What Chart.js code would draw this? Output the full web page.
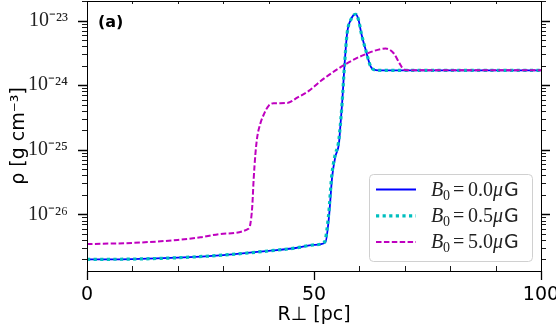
<!DOCTYPE html>
<html>
<head>
<meta charset="utf-8">
<script src="https://cdn.jsdelivr.net/npm/chart.js@4.4.1/dist/chart.umd.min.js"></script>
<style>
  html, body { margin: 0; padding: 0; background: #fff; }
</style>
</head>
<body>
<canvas id="rhoChart" width="556" height="330"></canvas>
<script>
// Density profiles: R_perp in pc, rho in g cm^-3
const rB00 = [0, 10, 20, 30, 40, 46, 50, 52.5, 53.3, 54.0, 54.7, 55.5, 55.8, 56.2, 56.7, 57.3, 58.1, 59.2, 59.8, 60.5, 61.4, 62.5, 63.6, 65, 80, 100];
const rhoB00 = [2.0e-27, 2.02e-27, 2.12e-27, 2.33e-27, 2.7e-27, 3.0e-27, 3.35e-27, 3.65e-27, 9.1e-27, 3.8e-26, 7.8e-26, 1.26e-25, 2.3e-25, 5.3e-25, 1.94e-24, 6.4e-24, 1.03e-23, 1.27e-23, 1.03e-23, 6.0e-24, 3.5e-24, 1.94e-24, 1.72e-24, 1.7e-24, 1.7e-24, 1.7e-24];

const rB05 = [0, 10, 20, 30, 40, 46, 50, 52.3, 53.2, 53.9, 54.6, 55.4, 55.8, 56.2, 56.7, 57.3, 58.1, 59.2, 59.8, 60.5, 61.4, 62.5, 63.6, 65, 80, 100];
const rhoB05 = [2.0e-27, 2.02e-27, 2.12e-27, 2.33e-27, 2.7e-27, 3.0e-27, 3.35e-27, 3.7e-27, 9.5e-27, 3.9e-26, 8.0e-26, 1.3e-25, 2.4e-25, 5.4e-25, 1.95e-24, 6.4e-24, 1.03e-23, 1.26e-23, 1.03e-23, 6.0e-24, 3.5e-24, 1.94e-24, 1.72e-24, 1.7e-24, 1.7e-24, 1.7e-24];

const rB50 = [0, 10, 20, 25, 30, 35.6, 36.0, 36.4, 36.7, 37.1, 37.5, 38.2, 39.0, 40.0, 41.1, 44.1, 46.3, 49.2, 51.4, 56.6, 61.0, 65.8, 67.6, 68.8, 69.8, 71, 100];
const rhoB50 = [3.45e-27, 3.6e-27, 4.0e-27, 4.4e-27, 5.0e-27, 6.0e-27, 7.2e-27, 1.32e-26, 3.4e-26, 8.7e-26, 1.58e-25, 2.57e-25, 3.6e-25, 4.8e-25, 5.25e-25, 5.3e-25, 6.4e-25, 8.5e-25, 1.15e-24, 2.05e-24, 2.95e-24, 3.7e-24, 3.1e-24, 2.2e-24, 1.75e-24, 1.7e-24, 1.7e-24];

const b0Values = ['0.0', '0.5', '5.0'];

// axis ticks
const xMajorTicks = [0, 50, 100];
const xMinorTicks = [10, 20, 30, 40, 60, 70, 80, 90];
const yMajorTicks = [1e-26, 1e-25, 1e-24, 1e-23];
const yTickLabels = ['10⁻²⁶', '10⁻²⁵', '10⁻²⁴', '10⁻²³'];

const toPoints = (xs, ys) => xs.map((x, i) => ({ x: x, y: ys[i] }));

// ticks, frame, panel tag and legend drawn on top
const decorations = {
  id: 'decorations',
  afterDraw(chart) {
    const ctx = chart.ctx;
    const a = chart.chartArea;
    const xs = chart.scales.x, ys = chart.scales.y;
    ctx.save();
    ctx.strokeStyle = '#000';

    // y ticks, outward on both sides
    const yMin = ys.min, yMax = ys.max;
    for (let e = -28; e <= -22; e++) {
      for (let m = 1; m <= 9; m++) {
        const v = m * Math.pow(10, e);
        if (v < yMin || v > yMax) continue;
        const py = Math.round(ys.getPixelForValue(v)) + 0.5;
        const len = m === 1 ? 9 : 5;
        ctx.lineWidth = m === 1 ? 1.3 : 0.9;
        ctx.beginPath();
        ctx.moveTo(a.left - len, py); ctx.lineTo(a.left, py);
        ctx.moveTo(a.right, py); ctx.lineTo(a.right + len, py);
        ctx.stroke();
      }
    }

    // x ticks: majors outward, minors inward
    ctx.lineWidth = 1.3;
    xMajorTicks.forEach(v => {
      const px = Math.round(xs.getPixelForValue(v)) + 0.5;
      ctx.beginPath();
      ctx.moveTo(px, a.bottom); ctx.lineTo(px, a.bottom + 9);
      ctx.stroke();
    });
    ctx.lineWidth = 0.9;
    xMinorTicks.forEach(v => {
      const px = Math.round(xs.getPixelForValue(v)) + 0.5;
      ctx.beginPath();
      ctx.moveTo(px, a.bottom); ctx.lineTo(px, a.bottom - 5);
      ctx.moveTo(px, a.top); ctx.lineTo(px, a.top + 3);
      ctx.stroke();
    });

    // frame
    ctx.lineWidth = 1;
    ctx.strokeRect(a.left + 0.5, a.top + 0.5, a.right - a.left, a.bottom - a.top);

    // panel tag
    ctx.fillStyle = '#000';
    ctx.font = 'bold 16px "DejaVu Sans"';
    ctx.textBaseline = 'alphabetic';
    ctx.fillText('(a)', a.left + 11, a.top + 26);

    // legend
    const w = 163, h = 87;
    const x0 = a.right - 9 - w, y0 = a.bottom - 10 - h;
    ctx.fillStyle = 'rgba(255,255,255,0.85)';
    ctx.strokeStyle = '#d0d0d0';
    ctx.beginPath();
    ctx.roundRect(x0 + 0.5, y0 + 0.5, w, h, 4);
    ctx.fill();
    ctx.stroke();
    chart.data.datasets.forEach((ds, i) => {
      const cy = y0 + 15.5 + i * 26.3;
      ctx.strokeStyle = ds.borderColor;
      ctx.lineWidth = ds.borderWidth;
      ctx.setLineDash(ds.borderDash || []);
      ctx.beginPath();
      ctx.moveTo(x0 + 7, cy); ctx.lineTo(x0 + 47, cy);
      ctx.stroke();
      ctx.setLineDash([]);
      const base = cy + 6;
      ctx.fillStyle = '#222';
      ctx.font = 'italic 20px "Liberation Serif"';
      ctx.fillText('B', x0 + 62, base);
      ctx.font = '14px "Liberation Serif"';
      ctx.fillText('0', x0 + 74, base + 4);
      ctx.font = '20px "Liberation Serif"';
      ctx.fillText('=', x0 + 84, base);
      ctx.fillText(b0Values[i], x0 + 99, base);
      ctx.font = 'italic 20px "Liberation Serif"';
      ctx.fillText('μ', x0 + 124, base);
      ctx.font = '19px "DejaVu Sans"';
      ctx.fillText('G', x0 + 135, base);
    });
    ctx.restore();
  }
};

const ctx = document.getElementById('rhoChart').getContext('2d');
const rhoChart = new Chart(ctx, {
  type: 'line',
  data: {
    datasets: [{
      label: 'B0 = 0.0 μG',
      data: toPoints(rB00, rhoB00),
      borderColor: '#0000ff',
      borderWidth: 1.8,
      order: 3
    }, {
      label: 'B0 = 0.5 μG',
      data: toPoints(rB05, rhoB05),
      borderColor: '#00bfbf',
      borderWidth: 3.2,
      borderDash: [3.2, 3.4],
      order: 2
    }, {
      label: 'B0 = 5.0 μG',
      data: toPoints(rB50, rhoB50),
      borderColor: '#bf00bf',
      borderWidth: 2,
      borderDash: [5.5, 2.4],
      order: 1
    }]
  },
  options: {
    responsive: false,
    animation: false,
    devicePixelRatio: 1,
    layout: { padding: { top: 1, right: 15, left: 0, bottom: 0 } },
    elements: {
      point: { radius: 0 },
      line: { cubicInterpolationMode: 'monotone', fill: false, borderCapStyle: 'butt' }
    },
    plugins: {
      legend: { display: false },
      tooltip: { enabled: false }
    },
    scales: {
      x: {
        type: 'linear',
        min: 0,
        max: 100,
        afterBuildTicks: s => { s.ticks = xMajorTicks.map(v => ({ value: v })); },
        afterFit: s => { s.height = 59; s.paddingLeft = 0; s.paddingRight = 0; },
        grid: { display: false },
        border: { display: false },
        ticks: {
          padding: 5,
          color: '#000',
          font: { family: 'DejaVu Sans', size: 19 },
          maxRotation: 0
        },
        title: {
          display: true,
          text: 'R⊥ [pc]',
          color: '#000',
          font: { family: 'DejaVu Sans', size: 19 },
          padding: { top: 0, bottom: 4 }
        }
      },
      y: {
        type: 'logarithmic',
        min: 1.32e-27,
        max: 2.02e-23,
        afterBuildTicks: s => { s.ticks = yMajorTicks.map(v => ({ value: v })); },
        afterFit: s => { s.width = 87; s.paddingTop = 0; s.paddingBottom = 0; },
        grid: { display: false },
        border: { display: false },
        ticks: {
          padding: 11,
          color: '#222',
          font: { family: 'Liberation Serif', size: 20 },
          callback: v => yTickLabels[yMajorTicks.indexOf(v)]
        },
        title: {
          display: true,
          text: 'ρ [g cm⁻³]',
          color: '#000',
          font: { family: 'DejaVu Sans', size: 19 },
          padding: { top: 8, bottom: 0 }
        }
      }
    }
  },
  plugins: [decorations]
});
</script>
</body>
</html>
